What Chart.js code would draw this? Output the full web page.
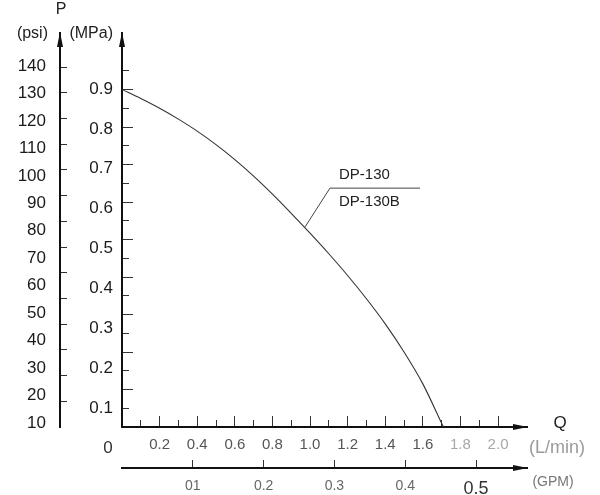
<!DOCTYPE html>
<html>
<head>
<meta charset="utf-8">
<script src="https://cdn.jsdelivr.net/npm/chart.js@4"></script>
<style>
  html, body { margin: 0; padding: 0; background: #fff; }
</style>
</head>
<body>
<canvas id="grafico" width="600" height="495"></canvas>
<script>
// Curva vazão x pressão (DP-130 / DP-130B)
const vazaoLpm   = [0, 0.1, 0.2, 0.3, 0.4, 0.5, 0.6, 0.7, 0.8, 0.9, 1.0, 1.1, 1.2, 1.3, 1.4, 1.5, 1.6, 1.7, 1.71];
const pressaoMPa = [0.900, 0.876, 0.850, 0.821, 0.789, 0.753, 0.713, 0.669, 0.621, 0.570, 0.517, 0.462, 0.404, 0.342, 0.275, 0.200, 0.115, 0.010, 0.0];

// Ticks dos eixos
const psiTicks  = [10, 20, 30, 40, 50, 60, 70, 80, 90, 100, 110, 120, 130, 140];
const mpaMajor  = [0.1, 0.2, 0.3, 0.4, 0.5, 0.6, 0.7, 0.8, 0.9];
const mpaMinor  = [0.05, 0.15, 0.25, 0.35, 0.45, 0.55, 0.65, 0.75, 0.85, 0.95];
const lpmMajor  = [0.2, 0.4, 0.6, 0.8, 1.0, 1.2, 1.4, 1.6, 1.8, 2.0];
const lpmMinor  = [0.1, 0.3, 0.5, 0.7, 0.9, 1.1, 1.3, 1.5, 1.7, 1.9];
const gpmTicks  = [0.1, 0.2, 0.3, 0.4, 0.5];
const gpmLabels = ['01', '0.2', '0.3', '0.4', '0.5'];
const modelos   = ['DP-130', 'DP-130B'];

const FONTE = '"Liberation Sans", Arial, sans-serif';

function usarTicks(valores) {
  return axis => { axis.ticks = valores.map(v => ({ value: v })); };
}

// eixo só com tracinhos (virados para dentro do gráfico)
function eixoTracos(pos, valores, min, max, comp, peso, tamanho) {
  return {
    type: 'linear', position: pos, weight: peso, min, max,
    afterBuildTicks: usarTicks(valores),
    afterFit: s => { if (pos === 'left') s.width = tamanho; else s.height = tamanho; },
    grid: { display: true, drawOnChartArea: false, drawTicks: true, tickLength: -comp, tickColor: '#333', tickWidth: 1 },
    border: { display: true, color: '#111', width: 2 },
    ticks: { display: false }
  };
}

// eixo só com rótulos (a escala dos números no desenho não bate exato com os tracinhos)
function eixoRotulos(valores, min, max, largura, peso, fmt) {
  return {
    type: 'linear', position: 'left', weight: peso, min, max,
    afterBuildTicks: usarTicks(valores),
    afterFit: s => { s.width = largura; },
    grid: { display: false, drawTicks: false },
    border: { display: false },
    ticks: { padding: 4, color: '#1a1a1a', font: { family: FONTE, size: 17 }, callback: fmt }
  };
}

const x = eixoTracos('bottom', lpmMajor, 0, 2.154, 11, 1, 41);
x.ticks = {
  display: true, padding: 20, maxRotation: 0, autoSkip: false,
  color: ctx => (ctx.tick && ctx.tick.value > 1.7) ? '#a8a8a8' : '#555',
  font: { family: FONTE, size: 15 },
  callback: v => v.toFixed(1)
};

const gpm = eixoTracos('bottom', gpmTicks, 0, 0.572, 8, 2, 27);
gpm.ticks = {
  display: true, padding: 18, maxRotation: 0, autoSkip: false,
  color: ctx => (ctx.tick && ctx.tick.value > 0.45) ? '#333' : '#666',
  font: ctx => ({ family: FONTE, size: (ctx.tick && ctx.tick.value > 0.45) ? 18 : 14 }),
  callback: (v, i) => gpmLabels[i]
};

// Setas, títulos dos eixos e a legenda com linha de chamada
const extras = {
  id: 'extras',
  afterDraw(chart) {
    const { ctx, chartArea: a, scales: s } = chart;
    ctx.save();
    ctx.fillStyle = '#111';

    function setaCima(px, py) {
      ctx.beginPath();
      ctx.moveTo(px, py - 1);
      ctx.lineTo(px - 3, py + 14);
      ctx.lineTo(px + 3, py + 14);
      ctx.closePath();
      ctx.fill();
    }
    function setaDireita(px, py) {
      ctx.beginPath();
      ctx.moveTo(px + 1, py);
      ctx.lineTo(px - 14, py - 3);
      ctx.lineTo(px - 14, py + 3);
      ctx.closePath();
      ctx.fill();
    }
    setaCima(s.psi.right, a.top);
    setaCima(s.y.right, a.top);
    setaDireita(a.right, s.x.top);
    setaDireita(a.right, s.gpm.top);

    ctx.textBaseline = 'middle';
    ctx.fillStyle = '#222';
    ctx.font = '16px ' + FONTE;
    ctx.textAlign = 'center';
    ctx.fillText('P', s.psi.right + 1, 10);
    ctx.textAlign = 'right';
    ctx.fillText('(psi)', s.psi.right - 12, a.top + 1);
    ctx.fillText('(MPa)', s.y.left - 9, a.top + 1);

    ctx.textAlign = 'center';
    ctx.font = '17px ' + FONTE;
    ctx.fillText('Q', a.right + 33, s.x.top - 4);
    ctx.fillStyle = '#333';
    ctx.fillText('0', s.y.left - 14, s.x.top + 21);
    ctx.fillStyle = '#9a9a9a';
    ctx.font = '18px ' + FONTE;
    ctx.fillText('(L/min)', a.right + 30, s.x.top + 21);
    ctx.fillStyle = '#777';
    ctx.font = '14px ' + FONTE;
    ctx.fillText('(GPM)', a.right + 26, s.gpm.top + 14);

    // chamada DP-130 / DP-130B
    const px = v => s.x.getPixelForValue(v);
    const py = v => s.y.getPixelForValue(v);
    ctx.strokeStyle = '#444';
    ctx.lineWidth = 1;
    ctx.beginPath();
    ctx.moveTo(px(0.973), py(0.533));
    ctx.lineTo(px(1.106), py(0.637));
    ctx.lineTo(px(1.585), py(0.637));
    ctx.stroke();
    ctx.fillStyle = '#222';
    ctx.font = '15px ' + FONTE;
    ctx.textAlign = 'left';
    ctx.fillText(modelos[0], px(1.154), py(0.672));
    ctx.fillText(modelos[1], px(1.154), py(0.6));
    ctx.restore();
  }
};

new Chart(document.getElementById('grafico'), {
  type: 'scatter',
  data: {
    datasets: [{
      label: modelos.join(' / '),
      data: vazaoLpm.map((q, i) => ({ x: q, y: pressaoMPa[i] })),
      showLine: true,
      borderColor: '#333',
      borderWidth: 1.1,
      pointRadius: 0,
      tension: 0.3,
      xAxisID: 'x',
      yAxisID: 'y'
    }]
  },
  options: {
    responsive: false,
    animation: false,
    layout: { padding: { top: 33, right: 73, bottom: 0, left: 0 } },
    plugins: { legend: { display: false }, tooltip: { enabled: false } },
    scales: {
      psiLab: eixoRotulos(psiTicks, 8.54, 152.0, 50, 5, v => String(v)),
      psi: eixoTracos('left', psiTicks, 0, 153.3, 7, 4, 10),
      mpaLab: eixoRotulos(mpaMajor, 0.0524, 1.0404, 57, 3, v => v.toFixed(1)),
      mpaMinor: eixoTracos('left', mpaMinor, 0, 1.0507, 7, 2, 5),
      y: eixoTracos('left', mpaMajor, 0, 1.0507, 11, 1, 0),
      xMinor: eixoTracos('bottom', lpmMinor, 0, 2.154, 7, 0, 0),
      x: x,
      gpm: gpm
    }
  },
  plugins: [extras]
});
</script>
</body>
</html>
